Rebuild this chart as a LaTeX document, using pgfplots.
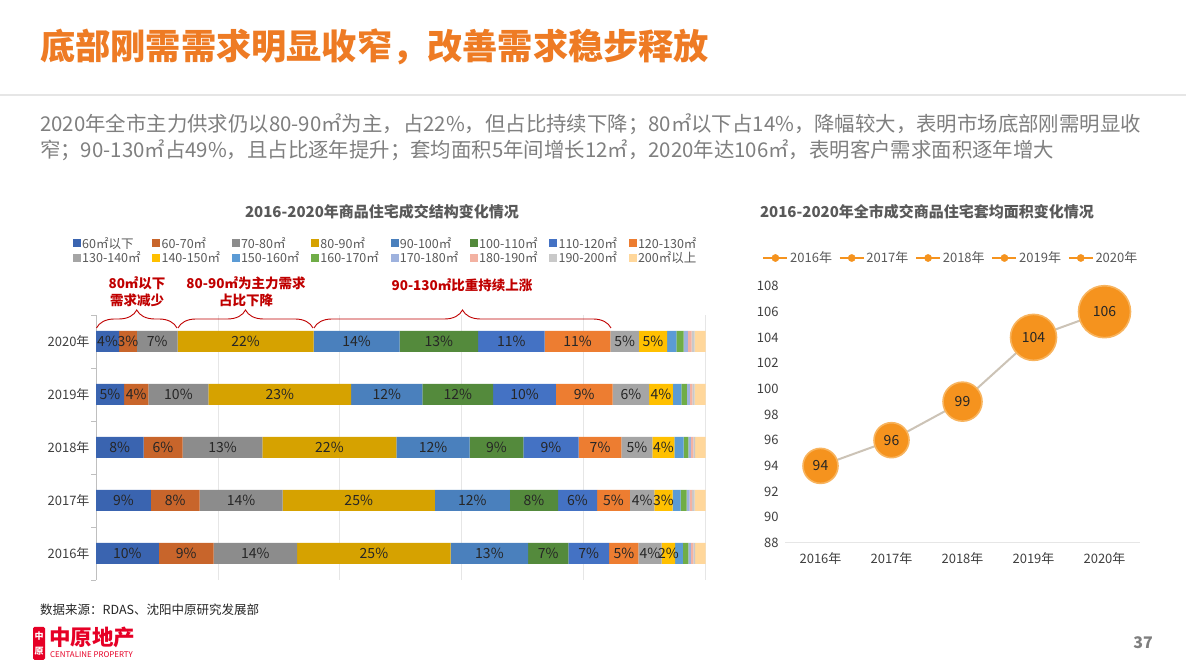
\documentclass[border=0pt]{standalone}
\usepackage{fontspec}
\setmainfont{Noto Sans CJK SC}
\usepackage{pgfplots}
\pgfplotsset{compat=1.18}
\usepackage{pgfplotstable}
\usetikzlibrary{decorations.pathreplacing}

\definecolor{c1}{HTML}{3A64B0}
\definecolor{c2}{HTML}{C8652B}
\definecolor{c3}{HTML}{8C8C8C}
\definecolor{c4}{HTML}{D6A200}
\definecolor{c5}{HTML}{4A80BD}
\definecolor{c6}{HTML}{548A3C}
\definecolor{c7}{HTML}{4472C4}
\definecolor{c8}{HTML}{ED7D31}
\definecolor{c9}{HTML}{A5A5A5}
\definecolor{c10}{HTML}{FFC000}
\definecolor{c11}{HTML}{5B9BD5}
\definecolor{c12}{HTML}{70AD47}
\definecolor{c13}{HTML}{9EB2DE}
\definecolor{c14}{HTML}{F3B2A2}
\definecolor{c15}{HTML}{C9C9C9}
\definecolor{c16}{HTML}{FFD79B}
\definecolor{titleorange}{HTML}{EE7B24}
\definecolor{paragray}{HTML}{7F7F7F}
\definecolor{headgray}{HTML}{595959}
\definecolor{tickc}{HTML}{404040}
\definecolor{lblc}{HTML}{262626}
\definecolor{axisgray}{HTML}{BFBFBF}
\definecolor{gridgray}{HTML}{E6E6E6}
\definecolor{annred}{HTML}{C00000}
\definecolor{bub}{HTML}{F5931E}
\definecolor{bubedge}{HTML}{F8B45E}
\definecolor{linec}{HTML}{CCC3B6}
\definecolor{logored}{HTML}{E60026}

\newcommand{\fsz}[1]{\fontsize{#1bp}{#1bp}\selectfont}

% idx: 0=2016 ... 4=2020 ; shares in percent per area band
\pgfplotstableread{
idx a1 a2 a3 a4 a5 a6 a7 a8 a9 a10 a11 a12 a13 a14 a15 a16
0 10.3 9.0 13.7 25.2 12.7 6.6 6.7 4.8 3.8 2.2 1.3 0.9 0.4 0.4 0.3 1.7
1 9.0 8.0 13.6 25.0 12.3 7.9 6.4 5.4 4.0 3.0 1.3 1.0 0.5 0.4 0.4 1.8
2 7.8 6.4 13.1 22.0 12.0 8.8 9.1 7.0 5.1 3.6 1.5 0.8 0.4 0.4 0.3 1.7
3 4.6 4.0 9.85 23.4 11.7 11.6 10.3 9.3 6.0 3.9 1.4 0.9 0.5 0.4 0.35 1.8
4 3.8 2.9 6.7 22.3 14.1 12.9 10.9 10.8 4.65 4.66 1.5 1.2 0.7 0.6 0.5 1.8
}\structdata

\pgfplotsset{
  /pgf/number format/assume math mode=true,
  seg/.style={fill=#1, draw=none,
    legend image code/.code={\fill[#1] (0bp,-4bp) rectangle (8bp,4bp);}},
  lab/.style={point meta=\thisrow{#1},
    nodes near coords={\pgfmathprintnumber[fixed,precision=0]{\pgfplotspointmeta}\%},
    every node near coord/.style={anchor=center,
      font=\fsz{14}, text=lblc, inner sep=0pt}},
  bubleg/.style={legend image code/.code={\draw[color=bub, line width=1.5bp] (0bp,0bp) -- (24bp,0bp);
      \fill[bub] (12bp,0bp) circle (3.6bp);}},
  bubst/.style={bubleg, only marks, mark=*, mark size=#1,
    mark options={fill=bub, draw=bubedge, line width=1.6bp}},
}

\begin{document}
\begin{tikzpicture}[x=1bp,y=1bp]
\fill[white] (0,0) rectangle (1186,666);
\useasboundingbox (0,0) rectangle (1186,666);

% slide title and text
\node[anchor=west, inner sep=0pt, text=titleorange, font=\fsz{35.2}\bfseries] at (40,619) {底部刚需需求明显收窄，改善需求稳步释放};
\draw[color=gridgray, line width=1.2bp] (0,571) -- (1186,571);
\node[anchor=west, inner sep=0pt, text=paragray, font=\fsz{20.4}] at (40,542) {2020年全市主力供求仍以80-90㎡为主，占22\%，但占比持续下降；80㎡以下占14\%，降幅较大，表明市场底部刚需明显收};
\node[anchor=west, inner sep=0pt, text=paragray, font=\fsz{20.4}] at (40,516) {窄；90-130㎡占49\%，且占比逐年提升；套均面积5年间增长12㎡，2020年达106㎡，表明客户需求面积逐年增大};

% chart titles
\node[text=headgray, font=\fsz{15}\bfseries] at (382,454) {2016-2020年商品住宅成交结构变化情况};
\node[text=headgray, font=\fsz{15}\bfseries] at (927,454) {2016-2020年全市成交商品住宅套均面积变化情况};

% left chart
\begin{axis}[
  at={(96bp,86bp)}, anchor=south west, scale only axis,
  width=609.5bp, height=265bp,
  xbar stacked, bar width=21bp,
  xmin=0, xmax=100, ymin=-0.5, ymax=4.5,
  xtick={20,40,60,80,100}, xticklabels={},
  xmajorgrids, major grid style={color=gridgray, line width=0.8bp},
  ytick={0,1,2,3,4},
  yticklabels={2016年,2017年,2018年,2019年,2020年},
  axis lines*=left,
  x axis line style={draw=none},
  y axis line style={draw=axisgray, line width=0.8bp},
  major tick length=0bp,
  tick style={color=axisgray, line width=0.8bp},
  extra y ticks={-0.5,0.5,1.5,2.5,3.5,4.5},
  extra y tick labels={},
  extra y tick style={major tick length=5bp, tick align=outside},
  tick label style={font=\fsz{13}, text=tickc},
  yticklabel style={xshift=-3bp},
  legend columns=8,
  legend cell align=left,
  legend style={at={(axis description cs:-0.0377,1.298)}, anchor=north west,
    draw=none, fill=none, inner sep=0pt, outer sep=0pt,
    font=\fsz{12.5}, text=headgray,
    nodes={text width=69bp, inner sep=1.2bp}},
  clip=false,
]
\addplot[seg=c1, lab=a1] table[x=a1, y=idx]{\structdata};
\addlegendentry{60㎡以下}
\addplot[seg=c2, lab=a2] table[x=a2, y=idx]{\structdata};
\addlegendentry{60-70㎡}
\addplot[seg=c3, lab=a3] table[x=a3, y=idx]{\structdata};
\addlegendentry{70-80㎡}
\addplot[seg=c4, lab=a4] table[x=a4, y=idx]{\structdata};
\addlegendentry{80-90㎡}
\addplot[seg=c5, lab=a5] table[x=a5, y=idx]{\structdata};
\addlegendentry{90-100㎡}
\addplot[seg=c6, lab=a6] table[x=a6, y=idx]{\structdata};
\addlegendentry{100-110㎡}
\addplot[seg=c7, lab=a7] table[x=a7, y=idx]{\structdata};
\addlegendentry{110-120㎡}
\addplot[seg=c8, lab=a8] table[x=a8, y=idx]{\structdata};
\addlegendentry{120-130㎡}
\addplot[seg=c9, lab=a9] table[x=a9, y=idx]{\structdata};
\addlegendentry{130-140㎡}
\addplot[seg=c10, lab=a10] table[x=a10, y=idx]{\structdata};
\addlegendentry{140-150㎡}
\addplot[seg=c11] table[x=a11, y=idx]{\structdata};
\addlegendentry{150-160㎡}
\addplot[seg=c12] table[x=a12, y=idx]{\structdata};
\addlegendentry{160-170㎡}
\addplot[seg=c13] table[x=a13, y=idx]{\structdata};
\addlegendentry{170-180㎡}
\addplot[seg=c14] table[x=a14, y=idx]{\structdata};
\addlegendentry{180-190㎡}
\addplot[seg=c15] table[x=a15, y=idx]{\structdata};
\addlegendentry{190-200㎡}
\addplot[seg=c16] table[x=a16, y=idx]{\structdata};
\addlegendentry{200㎡以上}
\end{axis}

% annotations over left chart
\begin{scope}[text=annred, font=\fsz{13.5}\bfseries]
\node at (137,383) {80㎡以下};
\node at (137,366) {需求减少};
\node at (246,383) {80-90㎡为主力需求};
\node at (246,366) {占比下降};
\node at (462,381) {90-130㎡比重持续上涨};
\end{scope}
\begin{scope}[draw=annred, line width=0.9bp, decoration={brace, amplitude=18bp}]
\draw[decorate] (96.5,338) -- (177,338);
\draw[decorate] (178,338) -- (313,338);
\draw[decorate] (314,338) -- (611,338);
\end{scope}

% right chart
\begin{axis}[
  at={(785bp,123bp)}, anchor=south west, scale only axis,
  width=355bp, height=257bp,
  xmin=-0.5, xmax=4.5, ymin=88, ymax=108,
  ytick={88,90,92,94,96,98,100,102,104,106,108},
  xtick={0,1,2,3,4},
  xticklabels={2016年,2017年,2018年,2019年,2020年},
  axis lines*=left,
  y axis line style={draw=none},
  x axis line style={draw=gridgray, line width=1bp},
  major tick length=0bp,
  tick label style={font=\fsz{13}, text=tickc},
  xticklabel style={yshift=-6bp},
  yticklabel style={xshift=-3bp},
  legend columns=5,
  legend style={at={(axis description cs:0.4676,1.1089)}, anchor=center,
    draw=none, fill=none, inner sep=0pt,
    font=\fsz{13}, text=headgray,
    /tikz/every even column/.append style={column sep=5bp}},
  clip=false,
]
\addplot[color=linec, line width=2bp, forget plot] coordinates {(0,94) (1,96) (2,99) (3,104) (4,106)};
\addplot[bubst=17.5bp] coordinates {(0,94)};
\addlegendentry{2016年}
\addplot[bubst=17.5bp] coordinates {(1,96)};
\addlegendentry{2017年}
\addplot[bubst=19.5bp] coordinates {(2,99)};
\addlegendentry{2018年}
\addplot[bubst=23bp] coordinates {(3,104)};
\addlegendentry{2019年}
\addplot[bubst=26bp] coordinates {(4,106)};
\addlegendentry{2020年}
\addplot[forget plot, only marks, mark=none, nodes near coords, point meta=explicit symbolic,
  every node near coord/.append style={anchor=center, font=\fsz{14}, text=lblc}]
  coordinates {(0,94) [94] (1,96) [96] (2,99) [99] (3,104) [104] (4,106) [106]};
\end{axis}

% footer
\node[anchor=west, inner sep=0pt, text=lblc, font=\fsz{12.5}] at (40,56) {数据来源：RDAS、沈阳中原研究发展部};
\fill[logored, rounded corners=1.5bp] (33,6) rectangle (45,39);
\node[text=white, font=\fsz{9}\bfseries, inner sep=0pt] at (39,30) {中};
\node[text=white, font=\fsz{9}\bfseries, inner sep=0pt] at (39,15) {原};
\node[anchor=west, inner sep=0pt, text=logored, font=\fsz{21.5}\bfseries] at (49,29) {中原地产};
\node[anchor=west, inner sep=0pt, text=logored, font=\fsz{7.9}] at (50,11) {CENTALINE PROPERTY};
\node[text=paragray, font=\fsz{16}\bfseries] at (1143,23) {37};
\end{tikzpicture}
\end{document}
